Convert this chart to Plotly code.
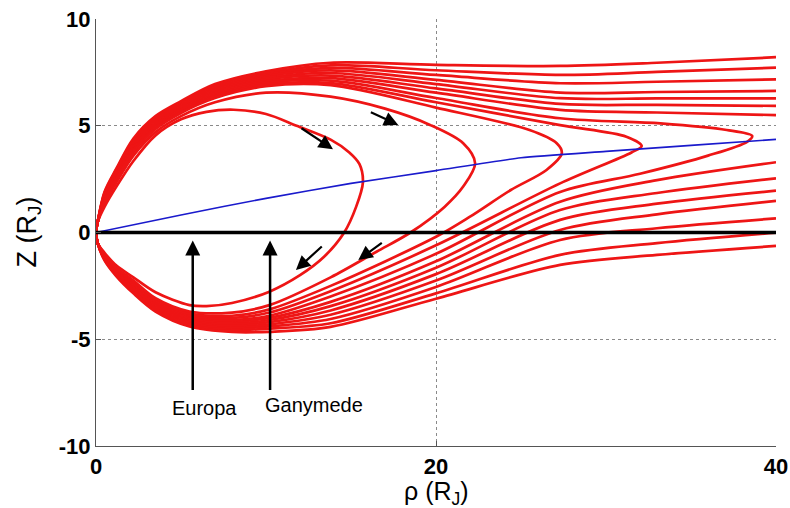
import plotly.graph_objects as go

# ---------------- data (rho, Z in Jupiter radii) ----------------
# open field lines: southern and northern branch samples
open_rho_south = [0, 0.1, 0.5, 1.2, 2.2, 3.5, 5.5, 8, 10.2, 13.8, 20, 27.3, 33, 40]
open_rho_north = [0, 0.1, 0.5, 1.2, 2.2, 3.5, 5, 7, 10, 13.8, 20, 27.3, 33, 40]

o1_south = [0, -0.5, -1.3, -2.05, -2.85, -3.7, -4.4, -4.66, -4.65, -4.42, -3.1, -1.52, -1.05, -0.63]
o1_north = [0, 0.5, 1.9, 3.0, 4.4, 5.45, 6.15, 6.95, 7.55, 7.95, 7.85, 7.8, 7.95, 8.21]
o2_south = [0, -0.5, -1.27, -2.01, -2.79, -3.64, -4.34, -4.58, -4.5, -4.25, -2.85, -1.05, -0.5, -0.01]
o2_north = [0, 0.5, 1.85, 2.94, 4.33, 5.38, 6.09, 6.88, 7.47, 7.83, 7.6, 7.38, 7.52, 7.72]
o3_south = [0, -0.5, -1.24, -1.97, -2.73, -3.58, -4.28, -4.5, -4.4, -4.05, -2.55, -0.35, 0.2, 0.66]
o3_north = [0, 0.5, 1.8, 2.89, 4.26, 5.31, 6.03, 6.81, 7.39, 7.71, 7.38, 6.99, 7.06, 7.17]
o4_south = [0, -0.5, -1.21, -1.93, -2.67, -3.52, -4.21, -4.42, -4.3, -3.85, -2.25, 0.12, 0.85, 1.48]
o4_north = [0, 0.5, 1.75, 2.83, 4.19, 5.24, 5.97, 6.73, 7.32, 7.59, 7.15, 6.55, 6.58, 6.63]
o5_south = [0, -0.5, -1.18, -1.89, -2.61, -3.46, -4.14, -4.34, -4.2, -3.65, -1.95, 0.59, 1.35, 1.96]
o5_north = [0, 0.5, 1.7, 2.78, 4.12, 5.17, 5.91, 6.66, 7.24, 7.47, 6.95, 6.29, 6.28, 6.28]
o6_south = [0, -0.5, -1.15, -1.85, -2.55, -3.4, -4.07, -4.26, -4.1, -3.45, -1.65, 1.05, 1.85, 2.54]
o6_north = [0, 0.5, 1.65, 2.72, 4.05, 5.1, 5.84, 6.59, 7.16, 7.35, 6.75, 6.02, 5.98, 5.93]
o7_south = [0, -0.5, -1.12, -1.81, -2.49, -3.34, -4.0, -4.18, -4.0, -3.25, -1.35, 1.44, 2.45, 3.29]
o7_north = [0, 0.5, 1.6, 2.67, 3.98, 5.03, 5.78, 6.52, 7.08, 7.23, 6.55, 5.74, 5.62, 5.50]

# closed field lines (south branch -> nose -> north branch)
loop5_rho = [0, 0.1, 0.5, 1.2, 2.2, 3.5, 5.5, 8, 10.2, 13.8, 20, 27.3, 32, 36, 38.3, 38.6,
             37.1, 33.2, 27.3, 20, 13.8, 10, 7, 5, 3.5, 2.2, 1.2, 0.5, 0.1, 0]
loop5_z = [0, -0.5, -1.09, -1.77, -2.43, -3.28, -3.93, -4.1, -3.9, -3.0, -1.0, 1.9, 2.75, 3.6, 4.25, 4.52,
           4.8, 5.11, 5.35, 6.3, 7.11, 7.01, 6.44, 5.72, 4.96, 3.91, 2.61, 1.55, 0.5, 0]
loop4_rho = [0, 0.1, 0.5, 1.2, 2.2, 3.5, 5.5, 8, 10.2, 13.8, 20, 27.3, 31.5, 32.1,
             31.2, 27.3, 20, 13.8, 10, 7, 5, 3.5, 2.2, 1.2, 0.5, 0.1, 0]
loop4_z = [0, -0.5, -1.06, -1.73, -2.37, -3.22, -3.86, -4.0, -3.75, -2.75, -0.6, 2.3, 3.75, 4.05,
           4.49, 5.03, 6.1, 7.0, 6.93, 6.37, 5.66, 4.91, 3.84, 2.56, 1.5, 0.5, 0]
loop3_rho = [0, 0.1, 0.5, 1.2, 2.2, 3.5, 5.5, 8, 10.2, 13.8, 20, 22, 24.4, 26.5, 27.4,
             27.1, 25.5, 20, 13.8, 10, 7, 5, 3.5, 2.2, 1.2, 0.5, 0.1, 0]
loop3_z = [0, -0.5, -1.03, -1.69, -2.31, -3.16, -3.79, -3.9, -3.6, -2.5, -0.2, 0.74, 1.99, 2.93, 3.71,
           4.18, 4.8, 5.85, 6.9, 6.85, 6.3, 5.6, 4.85, 3.75, 2.5, 1.45, 0.5, 0]
loop2_rho = [0, 0.1, 0.5, 1.2, 2.2, 3.5, 5.5, 8, 10.2, 13.8, 16.5, 18.5, 20.5, 21.6, 22.3,
             21.6, 19.65, 17, 13.8, 10, 7, 5, 3.5, 2.2, 1.2, 0.5, 0.1, 0]
loop2_z = [0, -0.5, -1.0, -1.65, -2.25, -3.08, -3.7, -3.75, -3.4, -2.1, -0.9, 0, 1.2, 2.15, 3.24,
           4.18, 5.04, 5.8, 6.36, 6.55, 6.1, 5.45, 4.7, 3.6, 2.35, 1.35, 0.5, 0]
loop1_rho = [0, 0.1, 0.5, 1.2, 2.2, 3.5, 5.5, 6.5, 8, 10.2, 12, 13.4, 14.6, 15.3, 15.7,
             15.5, 14.9, 13.8, 11.8, 10, 8.1, 6.5, 5, 3.5, 2.2, 1.2, 0.5, 0.1, 0]
loop1_z = [0, -0.5, -0.95, -1.55, -2.1, -2.8, -3.4, -3.45, -3.3, -2.77, -2.0, -1.15, 0, 1.2, 2.35,
           3.2, 3.75, 4.35, 5.0, 5.55, 5.75, 5.65, 5.3, 4.55, 3.35, 2.15, 1.2, 0.5, 0]

# current sheet (blue)
sheet_rho = [0, 5, 10, 15, 20, 25, 30, 35, 40]
sheet_z = [0, 0.82, 1.6, 2.3, 2.9, 3.5, 3.8, 4.08, 4.36]

# equator
equator_rho = [0, 40]
equator_z = [0, 0]

# moon markers
moon_names = ["Europa", "Ganymede"]
moon_rho = [5.69, 10.24]
moon_label_rho = [6.41, 12.82]
moon_label_z = [-8.22, -8.08]
moon_tail_z = [-7.45, -7.45]
moon_head_z = [-0.38, -0.38]

# direction arrows along field lines
dir_tail_rho = [12.0, 16.08, 13.37, 16.9]
dir_tail_z = [4.93, 5.66, -0.59, -0.43]
dir_head_rho = [13.94, 17.78, 11.76, 15.43]
dir_head_z = [3.9, 5.04, -1.76, -1.29]

# tick labels and axis titles
x_ticks = [0, 20, 40]
x_ticklabels = ["0", "20", "40"]
y_ticks = [-10, -5, 0, 5, 10]
y_ticklabels = ["-10", "-5", "0", "5", "10"]
x_title = "ρ (R<sub>J</sub>)"
y_title = "Z (R<sub>J</sub>)"

# ---------------- figure ----------------
RED = "#ee1515"
FONT = "Liberation Sans, Arial, Helvetica, sans-serif"
fig = go.Figure()

open_lines = [
    (o1_south, o1_north), (o2_south, o2_north), (o3_south, o3_north),
    (o4_south, o4_north), (o5_south, o5_north), (o6_south, o6_north),
    (o7_south, o7_north),
]
for zs, zn in open_lines:
    xs = list(reversed(open_rho_south)) + open_rho_north[1:]
    ys = list(reversed(zs)) + zn[1:]
    fig.add_trace(go.Scatter(x=xs, y=ys, mode="lines",
                             line=dict(color=RED, width=2.7, shape="spline", smoothing=0.9),
                             hoverinfo="skip", showlegend=False))

for xr, yz in [(loop5_rho, loop5_z), (loop4_rho, loop4_z), (loop3_rho, loop3_z),
               (loop2_rho, loop2_z), (loop1_rho, loop1_z)]:
    fig.add_trace(go.Scatter(x=xr, y=yz, mode="lines",
                             line=dict(color=RED, width=2.7, shape="spline", smoothing=0.9),
                             hoverinfo="skip", showlegend=False))

fig.add_trace(go.Scatter(x=sheet_rho, y=sheet_z, mode="lines",
                         line=dict(color="#1a1acc", width=1.6, shape="spline", smoothing=0.6),
                         hoverinfo="skip", showlegend=False))
fig.add_trace(go.Scatter(x=equator_rho, y=equator_z, mode="lines",
                         line=dict(color="black", width=3.5),
                         hoverinfo="skip", showlegend=False))

annotations = []
for i in range(len(moon_names)):
    annotations.append(dict(x=moon_rho[i], y=moon_head_z[i], ax=moon_rho[i], ay=moon_tail_z[i],
                            xref="x", yref="y", axref="x", ayref="y", text="",
                            showarrow=True, arrowhead=2, arrowsize=1.2, arrowwidth=2.5,
                            arrowcolor="black"))
    annotations.append(dict(x=moon_label_rho[i], y=moon_label_z[i], xref="x", yref="y",
                            text=moon_names[i], showarrow=False,
                            font=dict(family=FONT, size=20, color="black")))
for i in range(len(dir_tail_rho)):
    annotations.append(dict(x=dir_head_rho[i], y=dir_head_z[i], ax=dir_tail_rho[i], ay=dir_tail_z[i],
                            xref="x", yref="y", axref="x", ayref="y", text="",
                            showarrow=True, arrowhead=2, arrowsize=1.3, arrowwidth=2.2,
                            arrowcolor="black"))

# axis titles as annotations for exact placement
annotations.append(dict(x=0.5, y=0, xref="paper", yref="paper", yshift=-47,
                        xanchor="center", yanchor="middle", text=x_title, showarrow=False,
                        font=dict(family=FONT, size=25, color="black")))
annotations.append(dict(x=0, y=0.5, xref="paper", yref="paper", xshift=-68,
                        xanchor="center", yanchor="middle", text=y_title, showarrow=False,
                        textangle=-90, font=dict(family=FONT, size=27, color="black")))

axis_common = dict(
    showgrid=True, gridcolor="#8a8a8a", griddash="dot", gridwidth=1,
    showline=True, linecolor="#555555", linewidth=1.2,
    ticks="inside", ticklen=5, tickcolor="#555555",
    zeroline=False,
    tickfont=dict(family=FONT, size=22, color="black"),
)

fig.update_layout(
    width=790, height=508,
    margin=dict(l=96, r=14, t=19, b=62, autoexpand=False),
    paper_bgcolor="white", plot_bgcolor="white",
    xaxis=dict(range=[0, 40], tickvals=x_ticks,
               ticktext=["<b>%s</b>" % t for t in x_ticklabels],
               **axis_common),
    yaxis=dict(range=[-10, 10], tickvals=y_ticks,
               ticktext=["<b>%s</b>" % t for t in y_ticklabels],
               **axis_common),
    annotations=annotations,
)

fig.write_html("out.html")
